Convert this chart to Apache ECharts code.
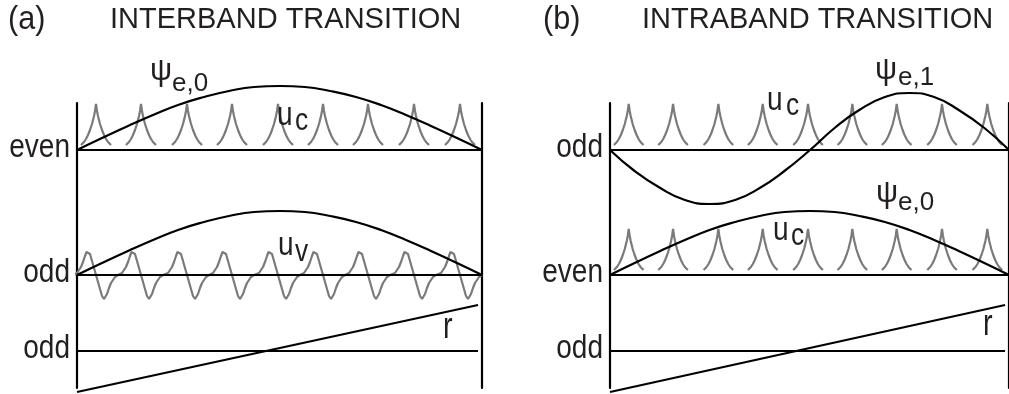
<!DOCTYPE html>
<html>
<head>
<meta charset="utf-8">
<script src="https://cdn.jsdelivr.net/npm/echarts@6/dist/echarts.min.js"></script>
<style>
  html, body { margin: 0; padding: 0; background: #ffffff; }
  #chart { width: 1009px; height: 394px; }
</style>
</head>
<body>
<div id="chart"></div>
<script>
// Positions run along the chain from the left wall (0) to the right wall (405).
const chainLength = 405;
// Atom sites along the chain
const atomSites = [19, 64, 110, 155, 201, 246, 291, 337, 383];

// Envelope functions: [position, amplitude]
const psiE0 = [[0, 0], [25, 12], [51, 24], [76, 35], [101, 45], [127, 53], [152, 59], [177, 63], [203, 64],
               [228, 63], [253, 59], [279, 53], [304, 45], [329, 35], [354, 24], [380, 12], [405, 0]];
const psiE1 = [[0, 0], [25, -21], [51, -38], [76, -50], [101, -54], [127, -50], [152, -38], [177, -21], [203, 0],
               [228, 22], [253, 40], [279, 53], [304, 57], [329, 53], [354, 40], [380, 22], [405, 0]];

// Cell-periodic parts around one atom site: [offset from site, amplitude]
const ucProfile = [[-15, 5], [-14, 6], [-12, 8], [-10, 11], [-8, 15], [-6, 20], [-4, 26], [-3, 30], [-2, 34], [-1, 39], [0, 46],
                   [1, 39], [2, 34], [3, 30], [4, 26], [6, 20], [8, 15], [10, 11], [12, 8], [14, 6], [15, 5]];
const uvProfile = [[-22, 0], [-19, 2], [-17, 5], [-15, 8], [-13, 13], [-11, 19], [-9.5, 23], [-8, 24], [-6, 21], [-4, 14], [-2, 7], [0, 0],
                   [2, -7], [4, -14], [6, -21], [8, -24], [9.5, -23], [11, -19], [13, -13], [15, -8], [17, -5], [19, -2], [22, 0]];

// Position operator r: [position, value]
const rLine = [[0, -41], [401, 46]];
const baseFull = [[0, 0], [405, 0]];
const baseShort = [[0, 0], [401, 0]];

// Parity labels for the three rows of each panel
const rowLabelsA = ['even', 'odd', 'odd'];
const rowLabelsB = ['odd', 'even', 'odd'];

// ---- layout ----
const gridTop = 103, gridHeight = 285;
const gridLefts = [77, 610];
const rowLevels = [238, 113, 37];           // baseline of each row on the panel's vertical scale
const ink = '#000000';
const grey = '#7a7a7a';
const textColor = '#231f20';
const sansFont = '"Liberation Sans", Arial, Helvetica, sans-serif';

function shift(points, level) {
  return points.map(([x, y]) => [x, y + level]);
}
function periodic(profile, level, separate) {
  const out = [];
  atomSites.forEach((site, i) => {
    profile.forEach(([dx, v]) => out.push([site + dx, v + level]));
    if (separate && i < atomSites.length - 1) out.push([site + 22, '-']);
  });
  return out;
}

function lineSeries(gridIndex, data, color, z) {
  return {
    type: 'line', xAxisIndex: gridIndex, yAxisIndex: gridIndex * 2,
    data: data, showSymbol: false, symbol: 'none', clip: false, silent: true,
    connectNulls: false, z: z,
    lineStyle: { color: color, width: 2.2 }
  };
}
function smoothSeries(gridIndex, data) {
  const s = lineSeries(gridIndex, data, ink, 5);
  s.smooth = 0.5;
  return s;
}

const series = [
  // panel (a): interband
  lineSeries(0, periodic(ucProfile, rowLevels[0], true), grey, 2),
  lineSeries(0, shift(baseFull, rowLevels[0]), ink, 4),
  smoothSeries(0, shift(psiE0, rowLevels[0])),
  lineSeries(0, periodic(uvProfile, rowLevels[1], false), grey, 2),
  lineSeries(0, shift(baseFull, rowLevels[1]), ink, 4),
  smoothSeries(0, shift(psiE0, rowLevels[1])),
  lineSeries(0, shift(baseShort, rowLevels[2]), ink, 4),
  lineSeries(0, shift(rLine, rowLevels[2]), ink, 5),
  // panel (b): intraband
  lineSeries(1, periodic(ucProfile, rowLevels[0], true), grey, 2),
  lineSeries(1, shift(baseFull, rowLevels[0]), ink, 4),
  smoothSeries(1, shift(psiE1, rowLevels[0])),
  lineSeries(1, periodic(ucProfile, rowLevels[1], true), grey, 2),
  lineSeries(1, shift(baseFull, rowLevels[1]), ink, 4),
  smoothSeries(1, shift(psiE0, rowLevels[1])),
  lineSeries(1, shift(baseShort, rowLevels[2]), ink, 4),
  lineSeries(1, shift(rLine, rowLevels[2]), ink, 5)
];

function wallAxis(gridIndex, position) {
  return {
    type: 'value', gridIndex: gridIndex, position: position, min: 0, max: gridHeight,
    axisLine: { show: true, onZero: false, lineStyle: { color: ink, width: 2.2 } },
    axisTick: { show: false }, splitLine: { show: false }, axisLabel: { show: false }
  };
}
function chainAxis(gridIndex) {
  return {
    type: 'value', gridIndex: gridIndex, min: 0, max: chainLength,
    axisLine: { show: false }, axisTick: { show: false },
    splitLine: { show: false }, axisLabel: { show: false }
  };
}

// Text: [text, x, y, size, horizontal scale, align]
const texts = [
  ['(a)', 8, 20, 34, 0.9, 'left'],
  ['INTERBAND TRANSITION', 110, 20, 29, 1, 'left'],
  ['(b)', 543, 20, 34, 0.9, 'left'],
  ['INTRABAND TRANSITION', 642, 20, 29, 1, 'left'],
  ['\u03c8', 150, 71, 31, 1, 'left'], ['e,0', 172, 84, 26, 1, 'left'],
  ['u', 277, 116, 33, 0.85, 'left'], ['c', 295, 121, 31, 0.85, 'left'],
  ['u', 278, 246, 33, 0.85, 'left'], ['v', 295, 252, 31, 0.85, 'left'],
  ['r', 443, 328, 36, 0.8, 'left'],
  ['\u03c8', 875, 70, 31, 1, 'left'], ['e,1', 898, 78, 26, 1, 'left'],
  ['u', 767, 101, 33, 0.85, 'left'], ['c', 786, 106, 31, 0.85, 'left'],
  ['\u03c8', 876, 193, 31, 1, 'left'], ['e,0', 898, 203, 26, 1, 'left'],
  ['u', 773, 231, 33, 0.85, 'left'], ['c', 791, 236, 31, 0.85, 'left'],
  ['r', 983, 325, 36, 0.8, 'left']
];
// Parity labels sit just left of each panel's left wall, level with the row baselines
[rowLabelsA, rowLabelsB].forEach((names, p) => {
  names.forEach((name, r) => {
    texts.push([name, gridLefts[p] - 7, gridTop + gridHeight - rowLevels[r] - 2, 33, 0.85, 'right']);
  });
});

const chart = echarts.init(document.getElementById('chart'), null, { renderer: 'canvas' });
chart.setOption({
  backgroundColor: '#ffffff',
  animation: false,
  grid: [
    { left: gridLefts[0], top: gridTop, width: chainLength, height: gridHeight },
    { left: gridLefts[1], top: gridTop, width: chainLength, height: gridHeight }
  ],
  xAxis: [chainAxis(0), chainAxis(1)],
  yAxis: [wallAxis(0, 'left'), wallAxis(0, 'right'), wallAxis(1, 'left'), wallAxis(1, 'right')],
  series: series,
  graphic: texts.map(([text, x, y, size, sx, align]) => ({
    type: 'text', x: x, y: y, scaleX: sx, silent: true, z: 10,
    style: { text: text, fontSize: size, fontFamily: sansFont, fill: textColor, align: align, verticalAlign: 'middle' }
  }))
});
</script>
</body>
</html>
